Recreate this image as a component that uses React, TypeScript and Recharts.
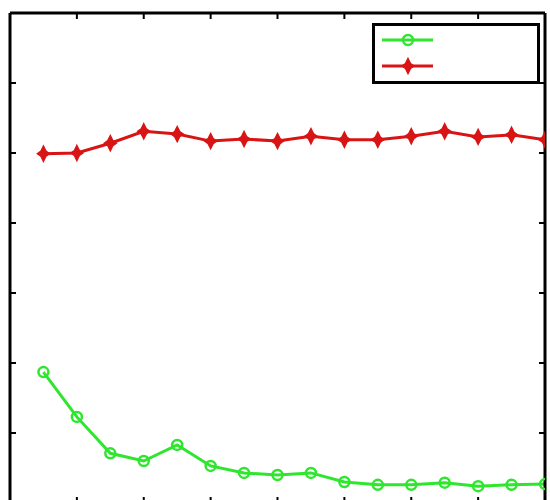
import { LineChart, Line, XAxis, YAxis, Legend } from 'recharts'

const steps = [1, 2, 3, 4, 5, 6, 7, 8, 9, 10, 11, 12, 13, 14, 15, 16]
const greenValues = [1.87, 1.23, 0.71, 0.6, 0.83, 0.53, 0.43, 0.4, 0.43, 0.3, 0.26, 0.26, 0.29, 0.24, 0.26, 0.27]
const redValues = [4.99, 5.0, 5.14, 5.31, 5.27, 5.17, 5.2, 5.17, 5.24, 5.19, 5.19, 5.24, 5.31, 5.23, 5.26, 5.19]
const xTicks = [0, 2, 4, 6, 8, 10, 12, 14, 16]
const yTicks = [0, 1, 2, 3, 4, 5, 6, 7]

const GREEN = '#2ee62e'
const RED = '#d91414'

const data = steps.map((x, i) => ({ x, green: greenValues[i], red: redValues[i] }))

// four-pointed star, a bit taller than wide
const starPath = (cx: number, cy: number) =>
  `M${cx},${cy - 7.5} L${cx + 2.5},${cy - 2.5} L${cx + 6},${cy} L${cx + 2.5},${cy + 2.5} L${cx},${cy + 7.5} L${cx - 2.5},${cy + 2.5} L${cx - 6},${cy} L${cx - 2.5},${cy - 2.5} Z`

const StarDot = (props: any) => {
  const { cx, cy, index } = props
  if (cx == null || cy == null) return null
  return <path key={`star-${index}`} d={starPath(cx, cy)} fill={RED} stroke={RED} strokeWidth={1.5} />
}

const renderLegend = () => (
  <svg width={168} height={61}>
    <rect x={1.5} y={1.5} width={165} height={58} fill="#fff" stroke="#000" strokeWidth={3} />
    <line x1={10} y1={17} x2={61} y2={17} stroke={GREEN} strokeWidth={3} />
    <circle cx={36} cy={17} r={5} fill="none" stroke={GREEN} strokeWidth={2.5} />
    <line x1={10} y1={43} x2={61} y2={43} stroke={RED} strokeWidth={3} />
    <path d={starPath(36, 43)} fill={RED} stroke={RED} strokeWidth={1.5} />
  </svg>
)

const axisLine = { stroke: '#000', strokeWidth: 3 }
const tickLine = { stroke: '#000', strokeWidth: 2 }
const noLabel = () => ''

export default function App() {
  return (
    <div>
      <style>{'body{margin:0;background:#fff}'}</style>
      <LineChart width={550} height={510} data={data} margin={{ top: 13, right: 5, bottom: 7, left: 10 }}>
        <XAxis dataKey="x" type="number" domain={[0, 16]} ticks={xTicks} allowDataOverflow
          mirror axisLine={axisLine} tickLine={tickLine} tickSize={6} tickFormatter={noLabel} />
        <XAxis xAxisId="top" orientation="top" dataKey="x" type="number" domain={[0, 16]} ticks={xTicks} allowDataOverflow
          mirror axisLine={axisLine} tickLine={tickLine} tickSize={6} tickFormatter={noLabel} />
        <YAxis type="number" domain={[0, 7]} ticks={yTicks} allowDataOverflow
          mirror axisLine={axisLine} tickLine={tickLine} tickSize={6} tickFormatter={noLabel} />
        <YAxis yAxisId="right" orientation="right" type="number" domain={[0, 7]} ticks={yTicks} allowDataOverflow
          mirror axisLine={axisLine} tickLine={tickLine} tickSize={6} tickFormatter={noLabel} />
        <Legend layout="vertical" align="center" verticalAlign="middle" content={renderLegend}
          wrapperStyle={{ left: 372, top: 23, width: 168, height: 61 }} />
        <Line dataKey="green" stroke={GREEN} strokeWidth={3} isAnimationActive={false}
          dot={{ r: 5, fill: 'none', stroke: GREEN, strokeWidth: 2.5 }} />
        <Line dataKey="red" stroke={RED} strokeWidth={3} isAnimationActive={false} dot={StarDot} />
      </LineChart>
    </div>
  )
}
